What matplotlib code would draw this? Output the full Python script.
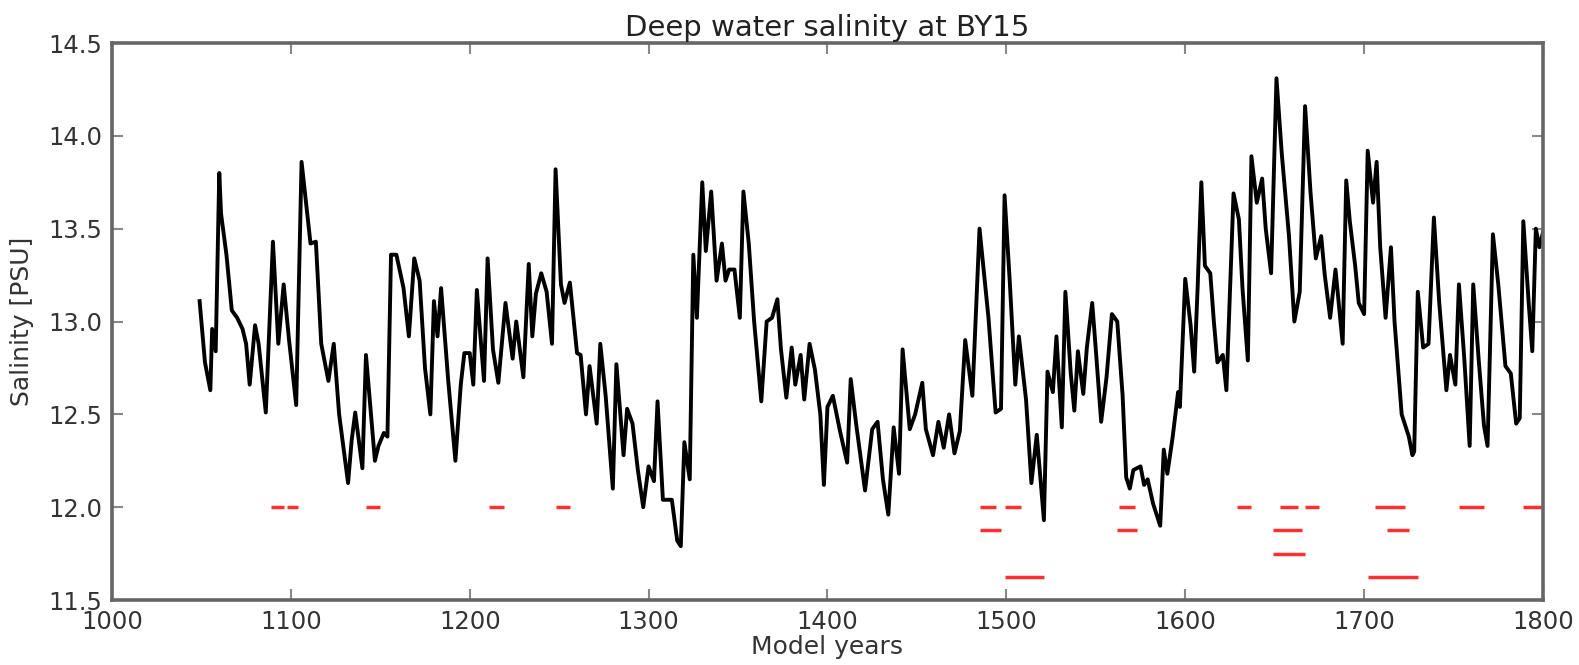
import matplotlib
matplotlib.use('Agg')
from matplotlib import pyplot as plt

# salinity curve (model year, PSU)
years = [1049, 1052, 1055, 1056, 1058, 1060, 1061, 1064, 1067, 1070, 1073, 1075, 1077, 1080, 1082, 1086,
         1090, 1093, 1096, 1099, 1103, 1106, 1111, 1114, 1117, 1121, 1124, 1127, 1132, 1134, 1136, 1140,
         1142, 1147, 1149, 1152, 1154, 1156, 1159, 1163, 1166, 1169, 1172, 1175, 1178, 1180, 1182, 1184,
         1188, 1192, 1195, 1197, 1200, 1202, 1204, 1206, 1208, 1210, 1213, 1216, 1220, 1224, 1226, 1230,
         1233, 1235, 1237, 1240, 1243, 1246, 1248, 1251, 1253, 1256, 1260, 1262, 1265, 1267, 1271, 1273,
         1276, 1280, 1282, 1286, 1288, 1291, 1294, 1297, 1300, 1303, 1305, 1308, 1313, 1316, 1318, 1320,
         1323, 1325, 1327, 1330, 1332, 1335, 1338, 1341, 1343, 1345, 1348, 1351, 1353, 1356, 1359, 1363,
         1366, 1369, 1372, 1374, 1377, 1380, 1382, 1385, 1387, 1390, 1393, 1396, 1398, 1400, 1403, 1407,
         1411, 1413, 1416, 1421, 1425, 1428, 1431, 1434, 1437, 1440, 1442, 1446, 1449, 1453, 1455, 1459,
         1462, 1465, 1468, 1471, 1474, 1477, 1481, 1485, 1490, 1494, 1497, 1499, 1502, 1505, 1507, 1511,
         1514, 1517, 1521, 1523, 1526, 1528, 1531, 1533, 1536, 1538, 1540, 1543, 1545, 1548, 1550, 1553,
         1556, 1559, 1562, 1565, 1567, 1569, 1571, 1575, 1577, 1579, 1582, 1586, 1588, 1590, 1593, 1596,
         1597, 1600, 1603, 1605, 1607, 1609, 1611, 1614, 1616, 1618, 1621, 1623, 1627, 1630, 1632, 1635,
         1637, 1640, 1643, 1645, 1648, 1651, 1654, 1658, 1661, 1664, 1667, 1670, 1673, 1676, 1678, 1681,
         1684, 1688, 1690, 1692, 1695, 1697, 1700, 1702, 1705, 1707, 1709, 1712, 1715, 1717, 1721, 1725,
         1727, 1728, 1730, 1733, 1736, 1739, 1742, 1746, 1748, 1751, 1753, 1756, 1759, 1761, 1764, 1767,
         1769, 1772, 1775, 1779, 1782, 1785, 1787, 1789, 1792, 1794, 1796, 1798, 1800]
salinity = [13.11, 12.78, 12.63, 12.96, 12.84, 13.80, 13.58, 13.36, 13.06, 13.02, 12.96, 12.88, 12.66, 12.98, 12.88, 12.51,
            13.43, 12.88, 13.20, 12.90, 12.55, 13.86, 13.42, 13.43, 12.88, 12.68, 12.88, 12.50, 12.13, 12.36, 12.51, 12.21,
            12.82, 12.25, 12.33, 12.40, 12.38, 13.36, 13.36, 13.18, 12.92, 13.34, 13.22, 12.75, 12.50, 13.11, 12.92, 13.18,
            12.68, 12.25, 12.66, 12.83, 12.83, 12.66, 13.17, 12.92, 12.68, 13.34, 12.85, 12.67, 13.10, 12.80, 13.00, 12.70,
            13.31, 12.92, 13.15, 13.26, 13.16, 12.88, 13.82, 13.20, 13.10, 13.21, 12.83, 12.82, 12.50, 12.76, 12.45, 12.88,
            12.60, 12.10, 12.77, 12.28, 12.53, 12.45, 12.20, 12.00, 12.22, 12.14, 12.57, 12.04, 12.04, 11.82, 11.79, 12.35,
            12.15, 13.36, 13.02, 13.75, 13.38, 13.70, 13.22, 13.42, 13.22, 13.28, 13.28, 13.02, 13.70, 13.42, 13.00, 12.57,
            13.00, 13.02, 13.12, 12.85, 12.59, 12.86, 12.66, 12.82, 12.58, 12.88, 12.74, 12.50, 12.12, 12.54, 12.60, 12.41,
            12.24, 12.69, 12.45, 12.09, 12.42, 12.46, 12.15, 11.96, 12.43, 12.18, 12.85, 12.42, 12.50, 12.67, 12.42, 12.28,
            12.46, 12.32, 12.50, 12.29, 12.41, 12.90, 12.60, 13.50, 13.02, 12.51, 12.53, 13.68, 13.20, 12.66, 12.92, 12.58,
            12.13, 12.39, 11.93, 12.73, 12.62, 12.92, 12.43, 13.16, 12.72, 12.52, 12.84, 12.61, 12.86, 13.10, 12.85, 12.46,
            12.70, 13.04, 13.00, 12.60, 12.16, 12.10, 12.20, 12.22, 12.12, 12.15, 12.02, 11.90, 12.31, 12.18, 12.38, 12.62,
            12.54, 13.23, 12.98, 12.73, 13.20, 13.75, 13.30, 13.26, 13.00, 12.78, 12.82, 12.63, 13.69, 13.55, 13.18, 12.79,
            13.89, 13.64, 13.77, 13.50, 13.26, 14.31, 13.90, 13.46, 13.00, 13.16, 14.16, 13.70, 13.34, 13.46, 13.25, 13.02,
            13.28, 12.88, 13.76, 13.54, 13.30, 13.10, 13.04, 13.92, 13.64, 13.86, 13.40, 13.02, 13.40, 13.00, 12.50, 12.38,
            12.28, 12.30, 13.16, 12.86, 12.88, 13.56, 13.10, 12.63, 12.82, 12.66, 13.20, 12.80, 12.33, 13.20, 12.80, 12.44,
            12.33, 13.47, 13.20, 12.76, 12.72, 12.45, 12.48, 13.54, 13.10, 12.84, 13.50, 13.40, 13.48]

# red marker rows: level -> (start year, end year) spans
row_levels = [12.0, 11.875, 11.75, 11.625]
row1_spans = [(1089, 1096), (1098, 1104), (1142, 1150), (1211, 1219), (1248, 1256), (1485, 1494),
              (1499, 1508), (1563, 1572), (1629, 1637), (1653, 1663), (1667, 1675), (1706, 1723),
              (1753, 1767), (1789, 1800)]
row2_spans = [(1485, 1497), (1562, 1573), (1649, 1665), (1713, 1725)]
row3_spans = [(1649, 1667)]
row4_spans = [(1499, 1521), (1702, 1730)]

plt.rcParams['font.family'] = 'DejaVu Sans'
fig = plt.figure(figsize=(15.79, 6.65), dpi=100)
ax = fig.add_axes([0.0709, 0.0977, 0.9063, 0.8376])

ax.plot(years, salinity, color='black', linewidth=2.8)
for level, spans in zip(row_levels, [row1_spans, row2_spans, row3_spans, row4_spans]):
    for s, e in spans:
        ax.hlines(level, s, e, colors='#ff3030', linewidth=2.5)

ax.set_xlim(1000, 1800)
ax.set_ylim(11.5, 14.5)
ax.set_xticks(range(1000, 1801, 100))
ax.set_yticks([11.5, 12.0, 12.5, 13.0, 13.5, 14.0, 14.5])
ax.set_yticklabels(['11.5', '12.0', '12.5', '13.0', '13.5', '14.0', '14.5'])
ax.tick_params(direction='in', top=True, right=True, length=8, width=1.5, color='#888888',
               labelsize=17.5, labelcolor='#333333')
ax.tick_params(axis='x', pad=7)
ax.tick_params(axis='y', pad=7)
for sp in ax.spines.values():
    sp.set_color('#666666')
    sp.set_linewidth(2.6)

ax.set_title('Deep water salinity at BY15', fontsize=21, color='#222222', pad=5)
ax.set_xlabel('Model years', fontsize=18, color='#333333', labelpad=1)
ax.set_ylabel('Salinity [PSU]', fontsize=18, color='#333333', labelpad=10)

fig.savefig('out.png', dpi=100)
